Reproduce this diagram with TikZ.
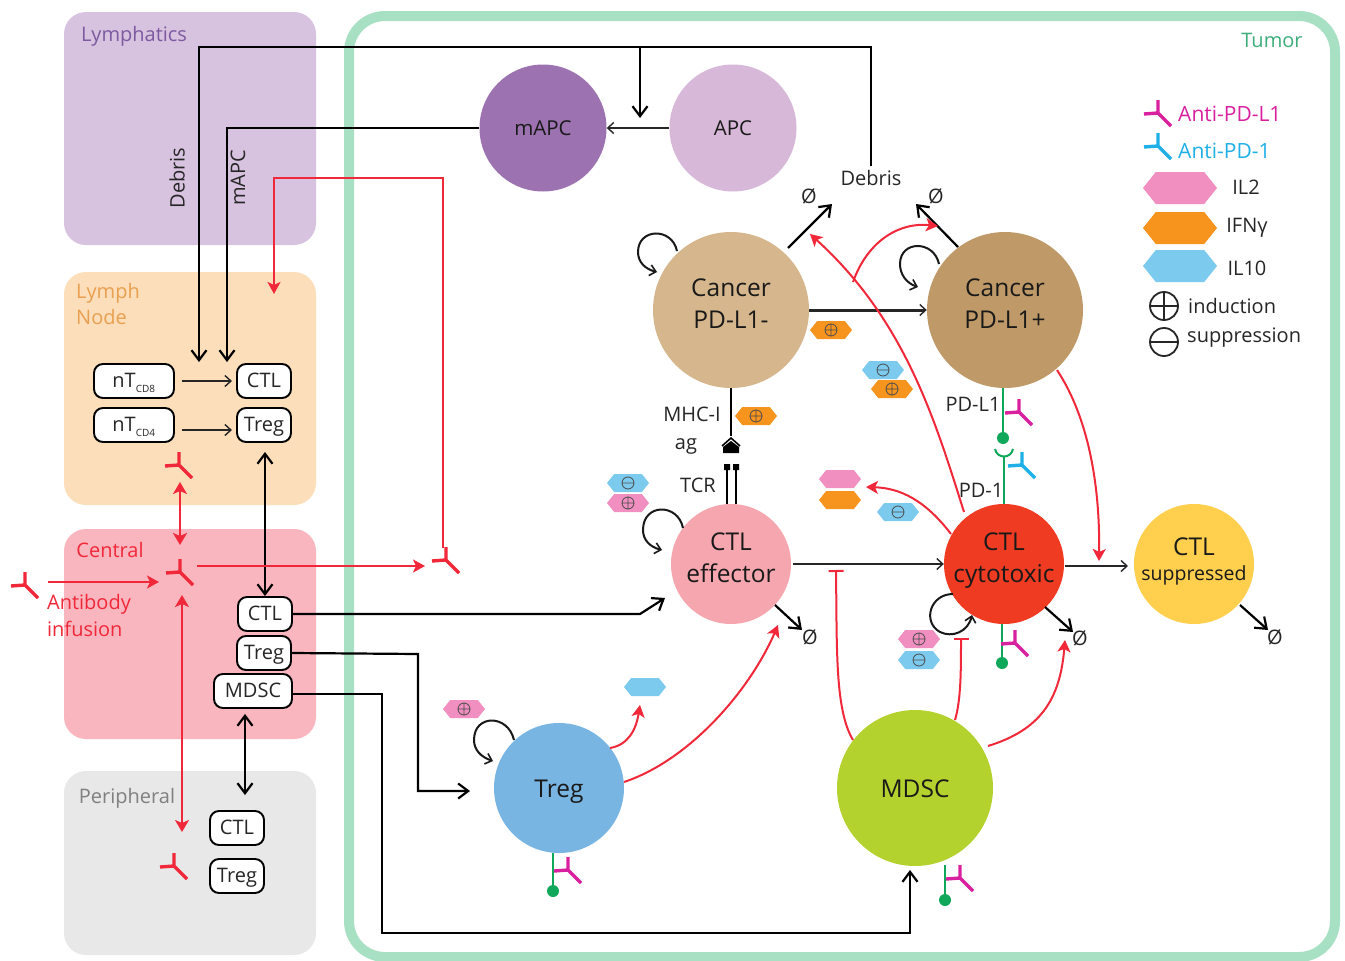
\documentclass[tikz,border=0pt]{standalone}
\usepackage{fontspec}
\setmainfont{Open Sans}
\usetikzlibrary{arrows.meta,calc}
\definecolor{tumorg}{HTML}{A8E0C4}
\definecolor{tumort}{HTML}{3DAE7A}
\definecolor{rd}{HTML}{F0283A}
\definecolor{mag}{HTML}{D9209F}
\definecolor{cy}{HTML}{1FB0E8}
\definecolor{hpink}{HTML}{F08FC0}
\definecolor{horange}{HTML}{F7941D}
\definecolor{hblue}{HTML}{7CCBEF}
\definecolor{grn}{HTML}{0FA85A}
\tikzset{
  x=1pt,y=-1pt,
  cell/.style={circle,draw=none,inner sep=0pt,align=center,text=black!90,font=\fontsize{24.5}{32}\selectfont},
  two/.style={text depth=12pt},
  one/.style={text height=22pt,text depth=3pt},
  tbox/.style={draw=black,line width=1.9pt,rounded corners=9pt,fill=white,inner sep=0pt,minimum height=34pt,font=\fontsize{20}{22}\selectfont,text=black!85,text height=16pt,text depth=4pt},
  lbl/.style={inner sep=0pt,text=black!85,font=\fontsize{20}{22}\selectfont},
  blk/.style={draw=black,line width=2.2pt,-{Straight Barb[length=10pt,width=15pt,line width=2.2pt]}},
  blkb/.style={draw=black,line width=2.2pt,{Straight Barb[length=10pt,width=15pt,line width=2.2pt]}-{Straight Barb[length=10pt,width=15pt,line width=2.2pt]}},
  thn/.style={draw=black!85,line width=1.6pt,-{Straight Barb[length=6pt,width=11pt,line width=1.4pt]}},
  red/.style={draw=rd,line width=2pt,-{Stealth[length=12pt,width=13pt,inset=3pt]}},
  redb/.style={draw=rd,line width=2pt,{Stealth[length=12pt,width=14pt,inset=3pt]}-{Stealth[length=12pt,width=14pt,inset=3pt]}},
  inh/.style={draw=rd,line width=2pt,-{Bar[width=15pt,line width=2pt]}},
  loopa/.style={draw=black!90,line width=2pt,-{Straight Barb[length=6pt,width=11pt,line width=1.6pt]}},
  gline/.style={draw=grn,line width=2.4pt},
  gdot/.style={circle,fill=grn,inner sep=0pt,minimum size=12pt},
  emptyset/.style={inner sep=0pt,text=black!85,font=\fontsize{20}{22}\selectfont},
}
% hexagon: name, x, y, half-width, half-height, colour
\newcommand{\hexa}[6]{%
  \fill[#6] (#2-#4,#3) -- (#2-#4+#5*.8,#3-#5) -- (#2+#4-#5*.8,#3-#5) -- (#2+#4,#3) -- (#2+#4-#5*.8,#3+#5) -- (#2-#4+#5*.8,#3+#5) -- cycle;
  \coordinate (#1) at (#2,#3);}
\newcommand{\splus}[1]{\draw[black!70,line width=.8pt] (#1) circle (6pt) ($(#1)+(-6,0)$) -- ($(#1)+(6,0)$) ($(#1)+(0,-6)$) -- ($(#1)+(0,6)$);}
\newcommand{\sminus}[1]{\draw[black!70,line width=.8pt] (#1) circle (6pt) ($(#1)+(-6,0)$) -- ($(#1)+(6,0)$);}
% antibody
\newcommand{\antib}[3]{%
  \draw[#3,line width=3.4pt] (#1,#2) -- ++(-14,1) (#1,#2) -- ++(0,-13) (#1,#2) -- ++(13,13);}
\begin{document}
\begin{tikzpicture}
\useasboundingbox (0,0) rectangle (1345,961);
\fill[white] (0,0) rectangle (1345,961);
% panels
\fill[rounded corners=22pt,fill={rgb,255:red,215;green,194;blue,223}] (64,12) rectangle (316,245);
\fill[rounded corners=22pt,fill={rgb,255:red,253;green,222;blue,186}] (64,272) rectangle (316,505);
\fill[rounded corners=22pt,fill={rgb,255:red,250;green,182;blue,190}] (64,529) rectangle (316,739);
\fill[rounded corners=22pt,fill={rgb,255:red,232;green,232;blue,232}] (64,771) rectangle (316,955);
\draw[tumorg,line width=10pt,rounded corners=36pt] (349,16) rectangle (1335,957);
% panel labels
\node[lbl,text={rgb,255:red,125;green,90;blue,160}] (tlym) at (134,36) {Lymphatics};
\node[lbl,text={rgb,255:red,232;green,160;blue,80},align=left,font=\fontsize{20}{26}\selectfont] (tln) at (108,304) {Lymph\\Node};
\node[lbl,text=rd] (tcen) at (110,550) {Central};
\node[lbl,text=rd,align=left,font=\fontsize{20}{27}\selectfont] (tinf) at (89,615) {Antibody\\infusion};
\node[lbl,text=black!50] (tper) at (127,798) {Peripheral};
\node[lbl,text=tumort] (ttum) at (1272,40) {Tumor};
\node[lbl,rotate=90] (tdeb) at (177,178) {Debris};
\node[lbl,rotate=90] (tmapc) at (238,178) {mAPC};
% cells
\node[cell,fill={rgb,255:red,156;green,114;blue,176},minimum size=127pt,font=\fontsize{20.5}{24}\selectfont] (mapc) at (543,128) {mAPC};
\node[cell,fill={rgb,255:red,215;green,184;blue,217},minimum size=127pt,font=\fontsize{20.5}{24}\selectfont] (apc) at (733,128) {APC};
\node[cell,two,fill={rgb,255:red,214;green,182;blue,140},minimum size=156pt] (cneg) at (731,310) {Cancer\\PD-L1-};
\node[cell,two,fill={rgb,255:red,191;green,154;blue,104},minimum size=156pt] (cpos) at (1005,310) {Cancer\\PD-L1+};
\node[cell,two,fill={rgb,255:red,246;green,166;blue,174},minimum size=120pt] (eff) at (731,564) {CTL\\effector};
\node[cell,two,fill={rgb,255:red,239;green,59;blue,34},minimum size=120pt] (cyt) at (1004,564) {CTL\\cytotoxic};
\node[cell,text depth=10pt,fill={rgb,255:red,255;green,207;blue,77},minimum size=120pt] (sup) at (1194,564) {CTL\\[-7pt]{\fontsize{19.5}{22}\selectfont suppressed}};
\node[cell,one,fill={rgb,255:red,120;green,181;blue,227},minimum size=130pt] (treg) at (559,788) {Treg};
\node[cell,one,fill={rgb,255:red,179;green,210;blue,46},minimum size=156pt] (mdsc) at (915,788) {MDSC};
% boxes
\node[tbox,minimum width=80pt] (n8) at (134,381) {nT\textsubscript{\raisebox{-2pt}{\fontsize{10}{10}\selectfont CD8}}};
\node[tbox,minimum width=80pt] (n4) at (134,425) {nT\textsubscript{\raisebox{-2pt}{\fontsize{10}{10}\selectfont CD4}}};
\node[tbox,minimum width=54pt] (lctl) at (264,381) {CTL};
\node[tbox,minimum width=54pt] (ltreg) at (264,425) {Treg};
\node[tbox,minimum width=54pt] (cctl) at (265,614) {CTL};
\node[tbox,minimum width=54pt] (ctreg) at (264,653) {Treg};
\node[tbox,minimum width=78pt] (cmdsc) at (253,691) {MDSC};
\node[tbox,minimum width=54pt] (pctl) at (237,828) {CTL};
\node[tbox,minimum width=54pt] (ptreg) at (237,876) {Treg};
% text labels
\node[lbl] (tdebris) at (871,178) {Debris};
\node[lbl] (tmhc) at (692,414) {MHC-I};
\node[lbl] (tag) at (686,446) {ag};
\node[lbl] (ttcr) at (698,485) {TCR};
\node[lbl] (tpdl) at (973,404) {PD-L1};
\node[lbl] (tpd1) at (981,490) {PD-1};
\node[emptyset] (e1) at (809,196) {Ø};
\node[emptyset] (e2) at (936,196) {Ø};
\node[emptyset] (e3) at (810,637) {Ø};
\node[emptyset] (e4) at (1080,638) {Ø};
\node[emptyset] (e5) at (1275,637) {Ø};
% black connectors
\coordinate (dleft) at (199,47);
\coordinate (dbr) at (640,47);
\draw[blk] (tdebris.north) ++(0,-4) |- (dleft) -- (199,362);
\draw[blk] (dbr) -- (640,118);
\draw[thn,line width=1.8pt] (apc.west) -- (mapc.east);
\draw[blk] (mapc.west) -- (227,128) -- (227,362);
\draw[thn] (n8.east) ++(7,0) -- ++(50,0);
\draw[thn] (n4.east) ++(7,5) -- ++(50,0);
\draw[blkb] (ltreg.south) ++(1,9) -- (cctl.north);
\draw[blk] (cctl.east) -- (640,614) -- (665,598);
\draw[blk] (ctreg.east) -- (418,654) -- (418,791) -- (470,791);
\draw[blk] (cmdsc.east) ++(0,3) -- (382,694) -- (382,933) -- (910,933) -- (910,870);
\draw[blkb] (cmdsc.south) ++(-8,5) -- (245,795);
\draw[thn,line width=3pt] (cneg.east) -- (cpos.west);
\draw[thn] (eff.east) ++(2,0) -- (cyt.west);
\draw[thn] (cyt.east) ++(1,2) -- (1128,566);
\draw[blk] (788,248) -- (832,204);
\draw[blk] (958,247) -- (916,204);
\draw[blk] (775,605) -- (802,630);
\draw[blk] (1045,607) -- (1073,632);
\draw[blk] (1240,605) -- (1268,630);
% self loops
\draw[loopa] (677,251) .. controls (672,227) and (638,228) .. (638,252) .. controls (638,262) and (645,269) .. (657,272);
\draw[loopa] (939,264) .. controls (934,240) and (900,240) .. (900,264) .. controls (900,274) and (906,283) .. (918,287);
\draw[loopa] (683,528) .. controls (678,503) and (643,503) .. (643,530) .. controls (643,540) and (650,547) .. (662,550);
\draw[loopa] (953,594) .. controls (930,594) and (922,622) .. (940,632) .. controls (952,638) and (968,632) .. (972,615);
\draw[loopa] (514,740) .. controls (508,714) and (474,714) .. (474,740) .. controls (474,750) and (481,757) .. (493,761);
% TCR / MHC
\draw[black,line width=2.2pt] (cneg.south) -- (731,436);
\draw[black,line width=1.6pt] (722,446) -- (731,438) -- (740,446);
\fill[black] (723,453) -- (723,447) -- (731,441) -- (739,447) -- (739,453) -- cycle;
\draw[black,line width=2.2pt] (727,504) -- (727,466) (736,504) -- (736,466);
\fill[black] (724,464) rectangle (730,470) (733,464) rectangle (739,470);
% green PD
\coordinate (gd1) at (1003,438);
\draw[gline] (cpos.south) ++(-2,0) -- (gd1);
\node[gdot] (dot1) at (gd1) {};
\draw[grn,line width=2pt] (995,449) .. controls (997,459) and (1011,459) .. (1013,449);
\draw[gline] (1004,457) -- (cyt.north);
\draw[gline] (cyt.south) ++(-2,0) -- (1002,663);
\node[gdot] (dot2) at (1002,663) {};
\draw[gline] (treg.south) ++(-6,0) -- (553,890);
\node[gdot] (dot3) at (553,891) {};
\draw[gline] (945,865) -- (945,898);
\node[gdot] (dot4) at (945,900) {};
% antibodies
\antib{179}{465}{rd}
\antib{180}{572}{rd}
\antib{25}{585}{rd}
\antib{446}{560}{rd}
\antib{174}{866}{rd}
\antib{1019}{412}{mag}
\antib{1015}{643}{mag}
\antib{568}{870}{mag}
\antib{960}{878}{mag}
\antib{1022}{465}{cy}
\antib{1158}{113}{mag}
\antib{1158}{146}{cy}
% hexagons
\hexa{h1}{831}{330}{21}{9}{horange}\splus{h1}
\hexa{h2}{756}{416}{21}{9}{horange}\splus{h2}
\hexa{h3}{883}{370}{21}{9}{hblue}\sminus{h3}
\hexa{h4}{892}{389}{21}{9}{horange}\splus{h4}
\hexa{h5}{628}{483}{21}{9}{hblue}\sminus{h5}
\hexa{h6}{628}{503}{21}{9}{hpink}\splus{h6}
\hexa{h7}{840}{479}{21}{9}{hpink}
\hexa{h8}{840}{500}{21}{9}{horange}
\hexa{h9}{898}{512}{21}{9}{hblue}\sminus{h9}
\hexa{h10}{919}{639}{21}{9}{hpink}\splus{h10}
\hexa{h11}{919}{660}{21}{9}{hblue}\sminus{h11}
\hexa{h12}{464}{709}{21}{9}{hpink}\splus{h12}
\hexa{h13}{645}{687}{21}{9}{hblue}
% red connectors
\draw[redb] (180,482) -- (180,545);
\draw[red] (48,582) -- (159,582);
\draw[red] (197,566) -- (425,566);
\draw[redb] (182,595) -- (182,832);
\draw[red] (443,548) -- (443,178) -- (274,178) -- (274,294);
\draw[red] (964,512) .. controls (935,420) and (905,320) .. (810,234);
\draw[red] (853,282) .. controls (868,240) and (900,222) .. (938,226);
\draw[red] (1057,370) .. controls (1090,420) and (1100,490) .. (1099,561);
\draw[red] (951,534) .. controls (925,500) and (900,488) .. (866,487);
\draw[inh] (853,740) .. controls (835,710) and (837,650) .. (836,570);
\draw[inh] (955,720) .. controls (961,700) and (961,670) .. (961,638);
\draw[red] (988,746) .. controls (1040,730) and (1060,700) .. (1065,640);
\draw[red] (610,748) .. controls (628,745) and (636,730) .. (640,705);
\draw[red] (624,782) .. controls (690,760) and (750,690) .. (778,625);
% legend
\node[lbl,text=mag,anchor=west,font=\fontsize{21}{24}\selectfont] (lg1) at (1178,114) {Anti-PD-L1};
\node[lbl,text=cy,anchor=west,font=\fontsize{21}{24}\selectfont] (lg2) at (1178,151) {Anti-PD-1};
\hexa{lh1}{1180}{188}{37}{16}{hpink}
\hexa{lh2}{1180}{228}{37}{16}{horange}
\hexa{lh3}{1180}{266}{37}{16}{hblue}
\node[lbl] (lg3) at (1246,187) {IL2};
\node[lbl] (lg4) at (1247,228) {IFNγ};
\node[lbl] (lg5) at (1247,268) {IL10};
\coordinate (lp) at (1164,306);
\coordinate (lm) at (1164,342);
\draw[black!85,line width=1.8pt] (lp) circle (14pt) (1150,306) -- (1178,306) (1164,292) -- (1164,320);
\draw[black!85,line width=1.8pt] (lm) circle (14pt) (1150,342) -- (1178,342);
\node[lbl,anchor=west] (lg6) at (1188,306) {induction};
\node[lbl,anchor=west] (lg7) at (1187,338) {suppression};
\end{tikzpicture}
\end{document}
